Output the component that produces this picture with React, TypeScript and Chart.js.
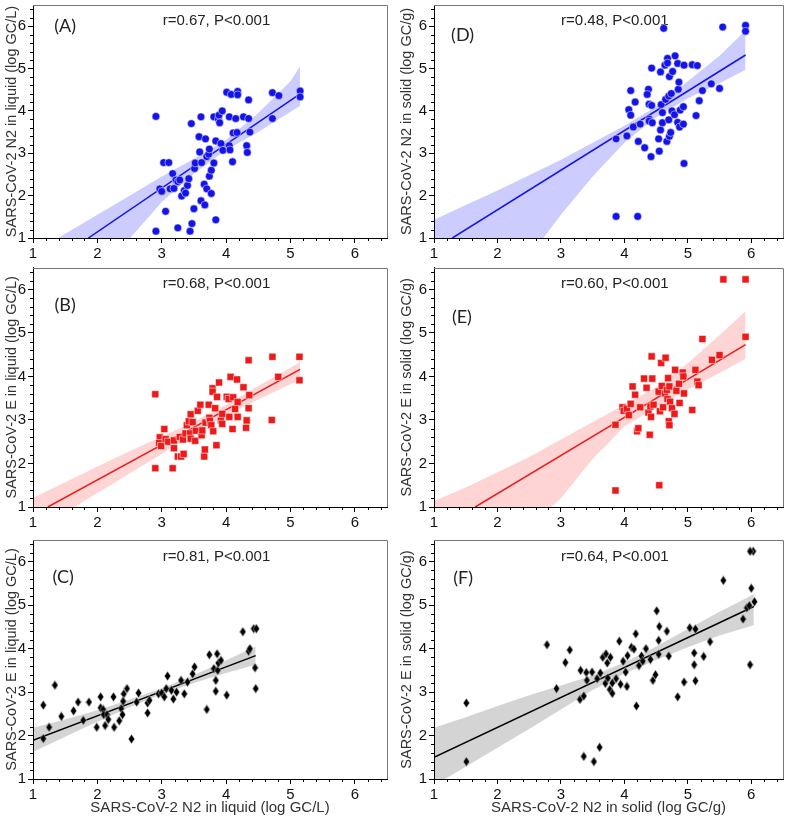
import React, { useEffect, useRef } from 'react';
import { Chart, registerables } from 'chart.js';

Chart.register(...registerables);

const FONT = "'Liberation Sans', Arial, sans-serif";
const TICK_VALUES = [1, 2, 3, 4, 5, 6];
const AXIS_MIN = 1;
const AXIS_MAX = 6.5;

// ---------- Panel A: N2 in liquid ----------
const aX = [2.91,2.91,2.97,3.00,3.03,3.11,3.06,3.13,3.17,3.19,3.22,3.25,3.25,3.28,3.31,3.35,3.37,3.40,3.42,3.44,3.47,3.46,3.50,3.51,3.52,3.58,3.59,3.61,3.61,3.62,3.66,3.67,3.68,3.70,3.70,3.73,3.74,3.74,3.77,3.77,3.81,3.81,3.84,3.84,3.88,3.89,3.90,3.92,3.94,3.95,4.01,4.05,4.05,4.06,4.08,4.10,4.11,4.15,4.17,4.18,4.18,4.27,4.32,4.33,4.35,4.35,4.37,4.72,4.72,4.82,5.15,5.15];
const aY = [3.87,1.16,2.16,2.10,2.78,2.78,1.63,2.16,2.52,2.17,2.37,2.33,1.24,2.37,1.99,2.12,2.06,2.24,2.40,1.16,1.34,3.70,1.69,2.64,2.77,3.39,3.03,3.86,1.88,2.78,2.27,1.78,3.34,2.92,2.16,2.98,2.46,3.10,2.60,2.05,3.86,2.77,1.43,3.29,3.81,3.90,3.72,3.23,4.00,3.07,4.44,3.86,3.18,3.08,4.39,2.80,3.48,3.82,3.49,4.46,4.38,3.86,3.18,3.02,4.26,3.82,3.50,4.43,3.82,4.36,4.47,4.33];
const aLineX = [1.86, 5.15];
const aLineY = [1.0, 4.40];
const aBandX = [1, 1.5, 2, 2.5, 3, 3.5, 4, 4.5, 5, 5.15];
const aBandUp = [0.62, 1.1, 1.55, 2.0, 2.45, 2.87, 3.32, 3.95, 4.7, 5.05];
const aBandLo = [-0.8, -0.2, 0.35, 0.98, 1.85, 2.52, 3.08, 3.5, 3.98, 4.12];

// ---------- Panel B: E in liquid ----------
const bX = [2.90,2.90,2.97,2.96,2.99,3.04,3.06,3.10,3.17,3.19,3.19,3.25,3.28,3.30,3.33,3.34,3.37,3.39,3.42,3.44,3.45,3.45,3.48,3.52,3.53,3.56,3.60,3.62,3.63,3.66,3.67,3.68,3.73,3.74,3.75,3.77,3.79,3.79,3.80,3.83,3.85,3.86,3.89,3.92,3.94,3.94,4.01,4.04,4.05,4.07,4.10,4.11,4.14,4.17,4.18,4.18,4.27,4.31,4.32,4.35,4.35,4.36,4.71,4.72,4.81,5.14,5.14];
const bY = [3.59,1.89,2.60,2.47,2.40,2.79,2.56,2.50,1.89,2.35,2.53,2.16,2.61,2.16,2.55,2.22,2.69,2.88,2.97,2.69,3.13,2.57,2.95,2.52,2.75,3.21,3.35,2.65,2.76,2.16,2.32,2.94,3.35,3.05,2.98,2.88,3.73,3.65,2.74,3.27,2.42,3.53,3.86,2.99,2.91,3.14,3.53,3.48,3.07,3.99,2.79,3.52,3.25,3.93,3.41,3.07,3.75,2.82,2.99,4.37,3.27,3.57,3.00,4.45,3.99,4.45,3.91];
const bLineX = [1.23, 5.15];
const bLineY = [1.0, 4.16];
const bBandX = [1, 1.5, 2, 2.5, 3, 3.5, 4, 4.5, 5, 5.15];
const bBandUp = [1.21, 1.57, 1.93, 2.28, 2.62, 2.96, 3.35, 3.78, 4.2, 4.33];
const bBandLo = [0.41, 0.87, 1.32, 1.77, 2.22, 2.68, 3.1, 3.47, 3.82, 3.9];

// ---------- Panel C: E vs N2 in liquid ----------
const cX = [1.16,1.16,1.25,1.34,1.44,1.63,1.70,1.78,1.87,1.99,2.05,2.05,2.09,2.10,2.12,2.15,2.17,2.25,2.26,2.34,2.37,2.39,2.41,2.46,2.40,2.53,2.61,2.64,2.78,2.78,2.81,2.95,3.00,3.04,3.07,3.09,3.15,3.18,3.23,3.30,3.35,3.40,3.48,3.51,3.70,3.74,3.81,3.84,3.84,3.86,3.87,3.88,3.92,4.01,4.26,4.35,4.37,4.43,4.47,4.45,4.46];
const cY = [2.70,1.93,2.19,3.16,2.44,2.57,2.77,2.35,2.77,2.19,2.89,2.64,2.60,2.48,2.23,2.48,2.37,2.89,2.19,2.34,2.62,2.48,2.96,3.08,2.79,1.92,2.77,2.98,2.52,2.75,2.81,2.96,2.98,2.89,3.08,3.37,3.04,2.84,3.00,3.27,2.96,3.23,3.42,3.58,2.60,3.86,3.54,3.27,3.02,3.88,3.50,3.67,3.73,2.93,4.39,3.94,4.00,4.46,4.46,3.56,3.08];
const cLineX = [1, 4.46];
const cLineY = [1.89, 3.84];
const cBandX = [1, 1.5, 2, 2.5, 3, 3.5, 4, 4.46];
const cBandUp = [2.18, 2.37, 2.58, 2.83, 3.09, 3.39, 3.73, 4.05];
const cBandLo = [1.62, 1.97, 2.32, 2.65, 2.95, 3.21, 3.44, 3.63];

// ---------- Panel D: N2 in solid ----------
const dX = [3.87,3.87,4.04,4.07,4.10,4.10,4.14,4.17,4.21,4.22,4.25,4.32,4.38,4.36,4.39,4.39,4.39,4.42,4.43,4.43,4.44,4.54,4.55,4.57,4.57,4.58,4.60,4.60,4.62,4.64,4.65,4.67,4.68,4.68,4.70,4.70,4.71,4.71,4.73,4.74,4.75,4.76,4.79,4.80,4.84,4.84,4.85,4.86,4.87,4.88,4.93,4.93,4.94,4.94,5.07,5.13,5.15,5.18,5.23,5.37,5.50,5.55,5.91,5.91];
const dY = [3.34,1.51,3.41,4.03,3.90,4.48,3.62,4.21,1.51,3.28,3.69,3.13,4.51,4.39,3.81,3.76,4.16,2.92,5.01,4.13,3.72,3.34,3.05,3.55,4.92,4.15,3.72,3.96,5.95,5.08,4.27,3.28,5.24,5.13,3.79,4.35,4.81,3.40,3.49,4.41,4.00,4.93,3.91,5.30,3.73,5.12,4.51,4.68,3.62,4.02,3.69,4.10,5.08,2.76,5.09,3.89,5.07,4.24,4.48,4.64,4.53,5.98,6.02,5.88];
const dLineX = [1.29, 5.91];
const dLineY = [1.0, 5.32];
const dBandX = [1, 1.5, 2, 2.5, 3, 3.5, 4, 4.5, 5, 5.5, 5.91];
const dBandUp = [1.43, 1.78, 2.12, 2.48, 2.85, 3.25, 3.65, 4.1, 4.7, 5.3, 5.9];
const dBandLo = [-2.0, -1.2, -0.4, 0.55, 1.55, 2.45, 3.25, 3.85, 4.3, 4.65, 4.97];

// ---------- Panel E: E in solid ----------
const eX = [3.86,3.86,3.97,3.99,4.04,4.07,4.10,4.13,4.17,4.20,4.22,4.25,4.31,4.35,4.38,4.40,4.41,4.42,4.43,4.44,4.46,4.54,4.56,4.58,4.59,4.61,4.64,4.65,4.67,4.68,4.69,4.70,4.71,4.71,4.72,4.75,4.79,4.80,4.82,4.86,4.87,4.92,4.93,4.94,5.07,5.12,5.15,5.17,5.23,5.38,5.50,5.56,5.91,5.91,4.55];
const eY = [2.89,1.38,3.29,3.21,3.26,3.11,3.37,3.77,3.58,2.74,2.81,3.29,3.95,3.74,3.17,2.66,3.31,3.07,4.46,3.95,3.35,3.65,3.20,4.31,3.78,3.29,3.61,4.43,3.69,3.48,3.96,2.97,2.88,3.77,3.42,3.27,3.14,4.15,3.67,3.83,3.39,4.09,4.00,3.61,3.23,4.15,3.88,3.80,4.86,4.38,4.49,6.23,6.23,4.91,1.50];
const eLineX = [1.65, 5.91];
const eLineY = [1.0, 4.73];
const eBandX = [1, 1.5, 2, 2.5, 3, 3.5, 4, 4.5, 5, 5.5, 5.91];
const eBandUp = [1.14, 1.45, 1.8, 2.15, 2.55, 2.95, 3.35, 3.75, 4.3, 4.95, 5.5];
const eBandLo = [-1.0, -0.5, 0.0, 0.55, 1.2, 2.1, 2.85, 3.3, 3.7, 4.08, 4.4];

// ---------- Panel F: E vs N2 in solid ----------
const fX = [1.51,1.51,2.78,2.93,3.07,3.14,3.31,3.30,3.36,3.36,3.40,3.41,3.49,3.52,3.57,3.61,3.62,3.66,3.70,3.71,3.73,3.74,3.77,3.78,3.81,3.81,3.87,3.92,3.94,3.98,4.02,4.04,4.05,4.11,4.15,4.18,4.19,4.23,4.27,4.29,4.34,4.41,4.45,4.49,4.51,4.54,4.54,4.55,4.67,4.70,4.84,4.94,5.03,5.10,5.10,5.12,5.12,5.25,5.35,5.56,5.87,5.93,5.98,6.00,6.03,5.98,6.05,5.97];
const fY = [2.75,1.40,4.09,3.08,3.68,3.97,3.50,2.83,2.91,1.52,3.45,3.27,3.46,1.40,3.31,1.73,3.44,3.80,3.20,3.88,3.67,3.32,3.06,3.80,3.21,2.97,3.31,4.17,3.18,3.71,3.46,3.13,3.84,4.03,3.99,4.34,2.68,3.61,3.83,3.71,4.00,3.75,3.27,3.40,4.87,3.87,4.19,4.51,4.40,3.83,2.89,3.23,4.48,3.90,3.63,4.45,3.26,3.82,4.16,5.57,4.68,4.94,3.63,5.39,6.24,6.24,5.08,4.99];
const fLineX = [1, 6.04];
const fLineY = [1.50, 4.97];
const fBandX = [1, 1.5, 2, 2.5, 3, 3.5, 4, 4.5, 5, 5.5, 6.04];
const fBandUp = [2.18, 2.42, 2.68, 2.93, 3.15, 3.38, 3.68, 4.05, 4.45, 4.85, 5.25];
const fBandLo = [0.85, 1.28, 1.72, 2.15, 2.6, 3.05, 3.42, 3.74, 4.03, 4.3, 4.54];

const STATS = ['r=0.67, P<0.001', 'r=0.68, P<0.001', 'r=0.81, P<0.001', 'r=0.48, P<0.001', 'r=0.60, P<0.001', 'r=0.64, P<0.001'];
const LABELS = ['(A)', '(B)', '(C)', '(D)', '(E)', '(F)'];
const Y_TITLES = [
  'SARS-CoV-2 N2 in liquid (log GC/L)',
  'SARS-CoV-2 E in liquid (log GC/L)',
  'SARS-CoV-2 E in liquid (log GC/L)',
  'SARS-CoV-2 N2 in solid (log GC/g)',
  'SARS-CoV-2 E in solid (log GC/g)',
  'SARS-CoV-2 E in solid (log GC/g)',
];
const X_TITLES = ['', '', 'SARS-CoV-2 N2 in liquid (log GC/L)', '', '', 'SARS-CoV-2 N2 in solid (log GC/g)'];

const zip = (xs: number[], ys: number[]) => xs.map((x, i) => ({ x, y: ys[i] }));

function makeDiamond(color: string) {
  const c = document.createElement('canvas');
  c.width = 7;
  c.height = 10;
  const g = c.getContext('2d')!;
  g.beginPath();
  g.moveTo(3.5, 0.3);
  g.lineTo(6.7, 5);
  g.lineTo(3.5, 9.7);
  g.lineTo(0.3, 5);
  g.closePath();
  g.fillStyle = color;
  g.fill();
  g.strokeStyle = 'rgba(255,255,255,0.8)';
  g.lineWidth = 0.5;
  g.stroke();
  return c;
}

type PanelProps = {
  left: number; top: number; width: number; height: number;
  yAxisWidth: number; xAxisHeight: number; padTop: number; padRight: number;
  xs: number[]; ys: number[]; lineX: number[]; lineY: number[];
  bandX: number[]; bandUp: number[]; bandLo: number[];
  color: string; bandColor: string; marker: 'circle' | 'rect' | 'diamond';
  label: string; labelPos: [number, number]; stat: string; yTitle: string; xTitle: string;
};

function Panel(p: PanelProps) {
  const ref = useRef<HTMLCanvasElement | null>(null);
  useEffect(() => {
    if (!ref.current) return;
    const pointStyle: any = p.marker === 'diamond' ? makeDiamond(p.color) : p.marker;
    const radius = p.marker === 'circle' ? 3.9 : p.marker === 'rect' ? 5 : 4;

    const overlay = {
      id: 'overlay',
      beforeDatasetsDraw(chart: any) {
        const { ctx, scales: { x, y } } = chart;
        ctx.save();
        ctx.fillStyle = '#222';
        ctx.textAlign = 'center';
        ctx.textBaseline = 'middle';
        ctx.font = `15px ${FONT}`;
        ctx.fillText(p.stat, x.getPixelForValue(3.85), y.getPixelForValue(6.12));
        ctx.font = `18px Lato, 'Open Sans', sans-serif`;
        ctx.fillText(p.label, x.getPixelForValue(p.labelPos[0]), y.getPixelForValue(p.labelPos[1]));
        ctx.restore();
      },
      afterDraw(chart: any) {
        const { ctx, chartArea: ca, scales: { x, y } } = chart;
        ctx.save();
        ctx.lineWidth = 1;
        ctx.strokeStyle = '#777';
        ctx.beginPath();
        ctx.moveTo(ca.left, Math.round(ca.top) + 0.5);
        ctx.lineTo(Math.round(ca.right) + 0.5, Math.round(ca.top) + 0.5);
        ctx.lineTo(Math.round(ca.right) + 0.5, ca.bottom);
        ctx.stroke();
        ctx.strokeStyle = '#000';
        ctx.beginPath();
        for (let i = 1; i <= 27; i++) {
          if (i % 5 === 0) continue;
          const v = AXIS_MIN + i * 0.2;
          const px = Math.round(x.getPixelForValue(v)) + 0.5;
          ctx.moveTo(px, ca.bottom);
          ctx.lineTo(px, ca.bottom + 3);
          const py = Math.round(y.getPixelForValue(v)) + 0.5;
          ctx.moveTo(ca.left - 3, py);
          ctx.lineTo(ca.left, py);
        }
        ctx.stroke();
        ctx.restore();
      },
    };

    const zeroPad = (s: any) => {
      s.paddingTop = 0;
      s.paddingBottom = 0;
      s.paddingLeft = 0;
      s.paddingRight = 0;
    };

    const axisCommon = {
      type: 'linear' as const,
      min: AXIS_MIN,
      max: AXIS_MAX,
      afterBuildTicks: (s: any) => { s.ticks = TICK_VALUES.map((v) => ({ value: v })); },
      ticks: { font: { size: 15, family: FONT }, color: '#111', padding: 2 },
      grid: { drawOnChartArea: false, drawTicks: true, tickLength: 5, color: '#000', tickColor: '#000', lineWidth: 1 },
      border: { display: true, color: '#000', width: 1 },
    };

    const chart = new Chart(ref.current, {
      type: 'line',
      data: {
        datasets: [
          {
            data: zip(p.xs, p.ys),
            showLine: false,
            pointStyle,
            pointRadius: radius,
            pointBackgroundColor: p.color,
            pointBorderColor: 'rgba(255,255,255,0.85)',
            pointBorderWidth: p.marker === 'diamond' ? 0 : 0.6,
            order: 0,
          } as any,
          {
            data: zip(p.lineX, p.lineY),
            borderColor: p.color,
            borderWidth: 1.5,
            pointRadius: 0,
            fill: false,
            order: 1,
          },
          {
            data: zip(p.bandX, p.bandUp),
            borderWidth: 0,
            borderColor: 'rgba(0,0,0,0)',
            pointRadius: 0,
            fill: false,
            order: 3,
          },
          {
            data: zip(p.bandX, p.bandLo),
            borderWidth: 0,
            borderColor: 'rgba(0,0,0,0)',
            backgroundColor: p.bandColor,
            pointRadius: 0,
            fill: '-1',
            order: 2,
          },
        ],
      },
      options: {
        animation: false,
        responsive: false,
        events: [],
        layout: { padding: { top: p.padTop, right: p.padRight, left: 0, bottom: 0 } },
        plugins: { legend: { display: false }, tooltip: { enabled: false } },
        scales: {
          x: {
            ...axisCommon,
            position: 'bottom',
            afterFit: (s: any) => { s.height = p.xAxisHeight; zeroPad(s); },
            title: {
              display: !!p.xTitle,
              text: p.xTitle,
              font: { size: 15, family: FONT },
              color: '#333',
              padding: { top: 0, bottom: 0 },
            },
          },
          y: {
            ...axisCommon,
            position: 'left',
            afterFit: (s: any) => { s.width = p.yAxisWidth; zeroPad(s); },
            title: {
              display: true,
              text: p.yTitle,
              font: { size: 14.5, family: FONT },
              color: '#333',
              padding: { top: 3, bottom: 0 },
            },
          },
        },
      } as any,
      plugins: [overlay],
    });
    return () => chart.destroy();
  }, []);
  return (
    <div style={{ position: 'absolute', left: p.left, top: p.top, width: p.width, height: p.height }}>
      <canvas ref={ref} width={p.width} height={p.height} style={{ display: 'block', width: p.width, height: p.height }} />
    </div>
  );
}

const BLUE = '#1414e8';
const RED = '#ee1a1a';
const BLACK = '#000000';

export default function App() {
  const cols = [
    { left: 0, width: 395, yAxisWidth: 33, padRight: 8 },
    { left: 395, width: 396, yAxisWidth: 39, padRight: 8 },
  ];
  const rows = [
    { top: 0, height: 262, xAxisHeight: 24, padTop: 5 },
    { top: 262, height: 268, xAxisHeight: 23, padTop: 3 },
    { top: 530, height: 287, xAxisHeight: 38, padTop: 10 },
  ];
  const panels = [
    { col: 0, row: 0, xs: aX, ys: aY, lineX: aLineX, lineY: aLineY, bandX: aBandX, bandUp: aBandUp, bandLo: aBandLo, color: BLUE, bandColor: 'rgba(0,0,255,0.2)', marker: 'circle', labelPos: [1.5, 6.0] },
    { col: 0, row: 1, xs: bX, ys: bY, lineX: bLineX, lineY: bLineY, bandX: bBandX, bandUp: bBandUp, bandLo: bBandLo, color: RED, bandColor: 'rgba(255,0,0,0.17)', marker: 'rect', labelPos: [1.5, 5.63] },
    { col: 0, row: 2, xs: cX, ys: cY, lineX: cLineX, lineY: cLineY, bandX: cBandX, bandUp: cBandUp, bandLo: cBandLo, color: BLACK, bandColor: 'rgba(0,0,0,0.17)', marker: 'diamond', labelPos: [1.47, 5.65] },
    { col: 1, row: 0, xs: dX, ys: dY, lineX: dLineX, lineY: dLineY, bandX: dBandX, bandUp: dBandUp, bandLo: dBandLo, color: BLUE, bandColor: 'rgba(0,0,255,0.2)', marker: 'circle', labelPos: [1.45, 5.78] },
    { col: 1, row: 1, xs: eX, ys: eY, lineX: eLineX, lineY: eLineY, bandX: eBandX, bandUp: eBandUp, bandLo: eBandLo, color: RED, bandColor: 'rgba(255,0,0,0.17)', marker: 'rect', labelPos: [1.44, 5.37] },
    { col: 1, row: 2, xs: fX, ys: fY, lineX: fLineX, lineY: fLineY, bandX: fBandX, bandUp: fBandUp, bandLo: fBandLo, color: BLACK, bandColor: 'rgba(0,0,0,0.17)', marker: 'diamond', labelPos: [1.46, 5.62] },
  ];
  return (
    <div style={{ position: 'absolute', left: 0, top: 0, width: 791, height: 817, background: '#fff', overflow: 'hidden' }}>
      {panels.map((pn, i) => {
        const c = cols[pn.col];
        const r = rows[pn.row];
        return (
          <Panel
            key={i}
            left={c.left} width={c.width} yAxisWidth={c.yAxisWidth} padRight={c.padRight}
            top={r.top} height={r.height} xAxisHeight={r.xAxisHeight} padTop={r.padTop}
            xs={pn.xs} ys={pn.ys} lineX={pn.lineX} lineY={pn.lineY}
            bandX={pn.bandX} bandUp={pn.bandUp} bandLo={pn.bandLo}
            color={pn.color} bandColor={pn.bandColor} marker={pn.marker as any}
            label={LABELS[i]} labelPos={pn.labelPos as [number, number]} stat={STATS[i]}
            yTitle={Y_TITLES[i]} xTitle={X_TITLES[i]}
          />
        );
      })}
    </div>
  );
}
